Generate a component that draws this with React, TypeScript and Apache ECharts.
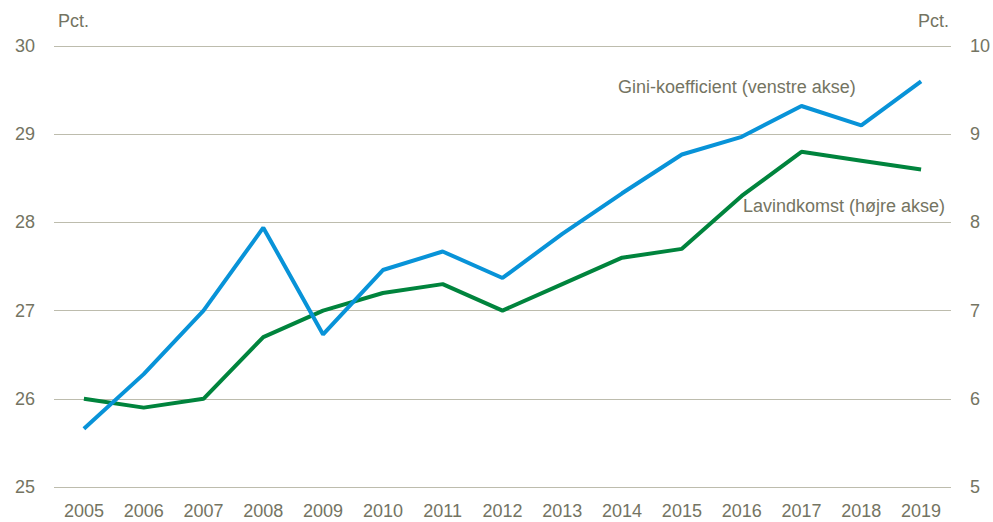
import React, { useEffect, useRef } from "react";
import * as echarts from "echarts";

const years = ["2005","2006","2007","2008","2009","2010","2011","2012","2013","2014","2015","2016","2017","2018","2019"];
const giniValues = [25.66, 26.28, 27.0, 27.94, 26.73, 27.46, 27.67, 27.37, 27.87, 28.33, 28.77, 28.97, 29.32, 29.10, 29.60];
const lowIncomeValues = [6.0, 5.9, 6.0, 6.7, 7.0, 7.2, 7.3, 7.0, 7.3, 7.6, 7.7, 8.3, 8.8, 8.7, 8.6];
const giniLabel = "Gini-koefficient (venstre akse)";
const lowIncomeLabel = "Lavindkomst (højre akse)";
const unitLabel = "Pct.";

const FONT = "'Liberation Sans Narrow', 'Arial Narrow', 'Liberation Sans', Arial, sans-serif";
const TEXT = "#747462";
const GRID = "#bdbcad";

export default function App() {
  const ref = useRef<HTMLDivElement>(null);
  useEffect(() => {
    if (!ref.current) return;
    const chart = echarts.init(ref.current, undefined, { renderer: "svg" });
    chart.setOption({
      animation: false,
      backgroundColor: "#ffffff",
      grid: { left: 54, right: 41, top: 46, bottom: 35, containLabel: false },
      textStyle: { fontFamily: FONT },
      xAxis: {
        type: "category",
        data: years,
        boundaryGap: true,
        axisLine: { show: false },
        axisTick: { show: false },
        axisLabel: { color: TEXT, fontSize: 18, fontFamily: FONT, margin: 15 },
      },
      yAxis: [
        {
          type: "value",
          min: 25,
          max: 30,
          interval: 1,
          position: "left",
          axisLine: { show: false },
          axisTick: { show: false },
          splitLine: { lineStyle: { color: GRID, width: 1 } },
          axisLabel: { color: TEXT, fontSize: 18, fontFamily: FONT, margin: 19 },
        },
        {
          type: "value",
          min: 5,
          max: 10,
          interval: 1,
          position: "right",
          axisLine: { show: false },
          axisTick: { show: false },
          splitLine: { show: false },
          axisLabel: { color: TEXT, fontSize: 18, fontFamily: FONT, margin: 19 },
        },
      ],
      series: [
        {
          name: giniLabel,
          type: "line",
          yAxisIndex: 0,
          data: giniValues,
          symbol: "none",
          lineStyle: { color: "#0893d8", width: 4 },
          z: 3,
        },
        {
          name: lowIncomeLabel,
          type: "line",
          yAxisIndex: 1,
          data: lowIncomeValues,
          symbol: "none",
          lineStyle: { color: "#00843d", width: 4 },
          z: 2,
        },
      ],
      graphic: [
        { type: "text", left: 58, top: 12, style: { text: unitLabel, fill: TEXT, font: `18px ${FONT}` } },
        { type: "text", right: 44, top: 12, style: { text: unitLabel, fill: TEXT, font: `18px ${FONT}` } },
        { type: "text", left: 618, top: 78, style: { text: giniLabel, fill: TEXT, font: `18px ${FONT}` } },
        { type: "text", left: 743, top: 197, style: { text: lowIncomeLabel, fill: TEXT, font: `18px ${FONT}` } },
      ],
    });
    return () => chart.dispose();
  }, []);
  return <div ref={ref} style={{ position: "fixed", left: 0, top: 0, width: 993, height: 522 }} />;
}
